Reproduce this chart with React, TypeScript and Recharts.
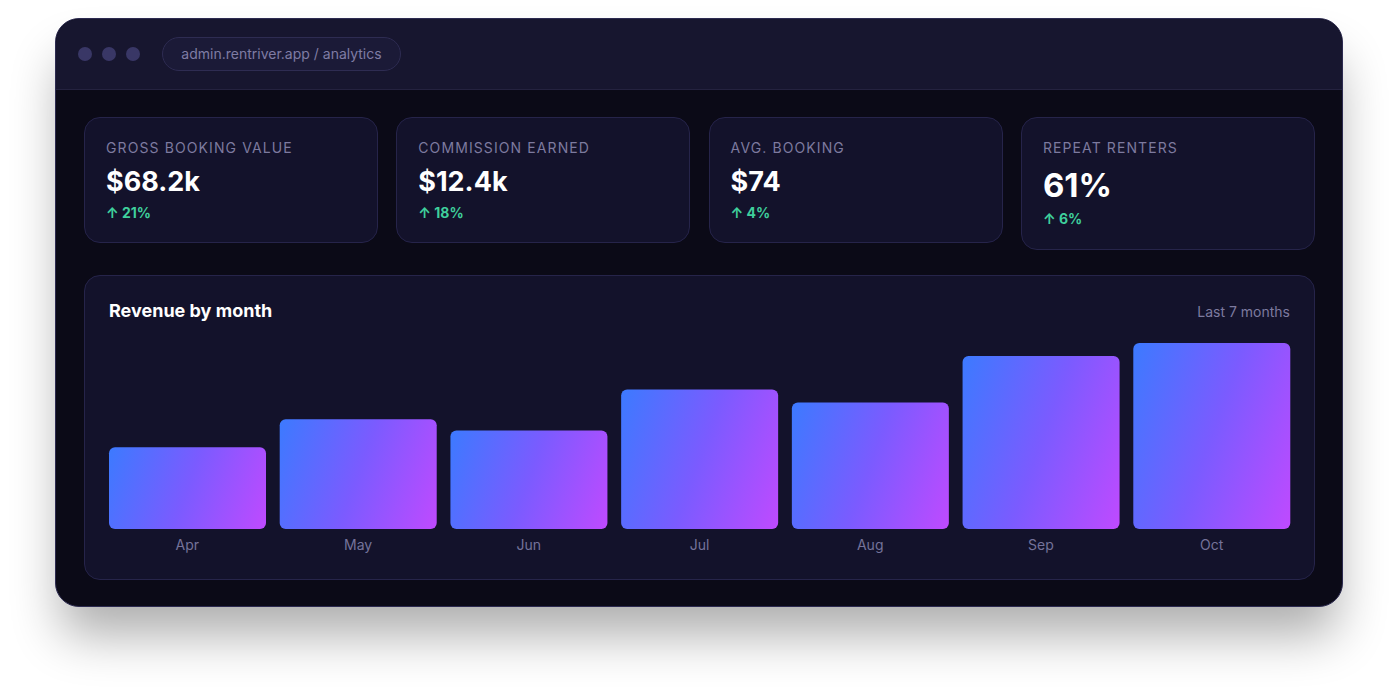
import React from 'react';
import { BarChart, Bar, XAxis, YAxis } from 'recharts';

const months = ['Apr', 'May', 'Jun', 'Jul', 'Aug', 'Sep', 'Oct'];
const revenue = [44, 59, 53, 75, 68, 93, 100];

const kpiLabels = ['GROSS BOOKING VALUE', 'COMMISSION EARNED', 'AVG. BOOKING', 'REPEAT RENTERS'];
const kpiValues = ['$68.2k', '$12.4k', '$74', '61%'];
const kpiDeltas = ['21%', '18%', '4%', '6%'];

const data = months.map((m, i) => ({ month: m, revenue: revenue[i] }));

const font = 'Inter, "Noto Sans", sans-serif';

// bar filled with a mostly horizontal gradient, tilted ~20deg downward
const GradBar = (props: any) => {
  const { x, y, width, height, index } = props;
  if (!height || height <= 0) return null;
  const cx = 0.94;
  const cy = 0.34;
  const len = width * cx + height * cy;
  const id = `barGrad${index}`;
  return (
    <g>
      <defs>
        <linearGradient id={id} gradientUnits="userSpaceOnUse" x1={x} y1={y} x2={x + len * cx} y2={y + len * cy}>
          <stop offset="0%" stopColor="#3c7aff" />
          <stop offset="50%" stopColor="#7b5bff" />
          <stop offset="100%" stopColor="#bf4aff" />
        </linearGradient>
      </defs>
      <rect x={x} y={y} width={width} height={height} rx={6} ry={6} fill={`url(#${id})`} />
    </g>
  );
};

const App: React.FC = () => {
  return (
    <div style={{ position: 'absolute', left: 0, top: 0, width: 1398, height: 699, background: '#ffffff', fontFamily: font, overflow: 'hidden' }}>
      <div
        style={{
          position: 'absolute',
          left: 55,
          top: 18,
          width: 1288,
          height: 589,
          boxSizing: 'border-box',
          borderRadius: 24,
          background: '#0b0a17',
          border: '1px solid #2c2a50',
          boxShadow: '0 34px 50px -6px rgba(0,0,0,0.32)',
          overflow: 'hidden',
        }}
      >
        {/* title bar */}
        <div style={{ position: 'absolute', left: 0, top: 0, right: 0, height: 70, background: '#17162f', borderBottom: '1px solid #24223f' }}>
          {[0, 1, 2].map((i) => (
            <div key={i} style={{ position: 'absolute', left: 22 + i * 24, top: 28, width: 14, height: 14, borderRadius: 7, background: '#393766' }} />
          ))}
          <div
            style={{
              position: 'absolute',
              left: 106,
              top: 18,
              width: 239,
              height: 34,
              boxSizing: 'border-box',
              borderRadius: 17,
              background: '#1b1a37',
              border: '1px solid #2e2c52',
              color: '#7f7ca4',
              fontSize: 14,
              lineHeight: '32px',
              textAlign: 'center',
            }}
          >
            admin.rentriver.app / analytics
          </div>
        </div>

        {/* kpi cards */}
        {kpiLabels.map((label, i) => {
          const big = i === 3;
          return (
            <div
              key={label}
              style={{
                position: 'absolute',
                left: 28 + i * 312.3,
                top: 98,
                width: 294,
                height: big ? 133 : 126,
                boxSizing: 'border-box',
                borderRadius: 16,
                background: '#13122b',
                border: '1px solid #26244a',
                padding: '21px 0 0 21px',
              }}
            >
              <div style={{ color: '#7d7a9f', fontSize: 14, letterSpacing: 1.1, lineHeight: '17px' }}>{label}</div>
              <div style={{ color: '#ffffff', fontSize: big ? 33 : 27, fontWeight: 700, lineHeight: big ? '40px' : '34px', marginTop: 9 }}>
                {kpiValues[i]}
              </div>
              <div style={{ color: '#3fcf9c', fontSize: 14, fontWeight: 700, lineHeight: '17px', marginTop: 5 }}>↑ {kpiDeltas[i]}</div>
            </div>
          );
        })}

        {/* chart card */}
        <div
          style={{
            position: 'absolute',
            left: 28,
            top: 256,
            width: 1231,
            height: 305,
            boxSizing: 'border-box',
            borderRadius: 16,
            background: '#13122b',
            border: '1px solid #26244a',
          }}
        >
          <div style={{ position: 'absolute', left: 24, top: 24, color: '#ffffff', fontSize: 18, fontWeight: 700 }}>Revenue by month</div>
          <div style={{ position: 'absolute', right: 24, top: 27, color: '#7d7a9f', fontSize: 14 }}>Last 7 months</div>
          <div style={{ position: 'absolute', left: -1, top: 59 }}>
            <BarChart width={1231} height={230} data={data} margin={{ top: 8, right: 18, bottom: 0, left: 18 }}>
              <XAxis
                dataKey="month"
                axisLine={false}
                tickLine={false}
                tickSize={0}
                tickMargin={11}
                height={36}
                tick={{ fill: '#75729a', fontSize: 14, fontFamily: font }}
              />
              <YAxis hide domain={[0, 100]} />
              <Bar dataKey="revenue" barSize={157} shape={GradBar} isAnimationActive={false} />
            </BarChart>
          </div>
        </div>
      </div>
    </div>
  );
};

export default App;
